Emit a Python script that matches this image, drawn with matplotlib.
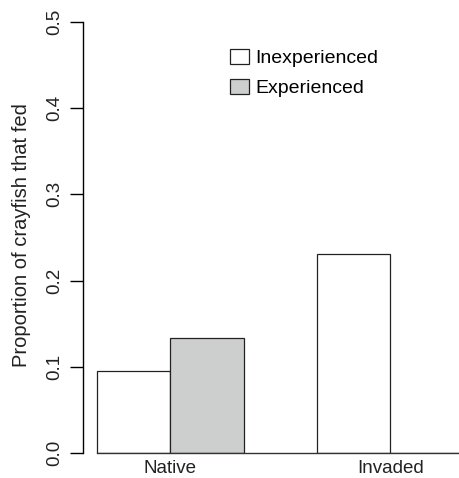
import numpy as np
import matplotlib.pyplot as plt

plt.rcParams['font.family'] = ['Liberation Sans', 'DejaVu Sans']

groups = ['Native', 'Invaded']
inexperienced = [0.095, 0.231]
experienced = [0.133, 0.0]
series_names = ['Inexperienced', 'Experienced']
yticks = [0.0, 0.1, 0.2, 0.3, 0.4, 0.5]

W, H = 460, 478
fig = plt.figure(figsize=(W / 100, H / 100), dpi=100)
ax = fig.add_axes([83 / W, (H - 453) / H, (460 - 83) / W, 431 / H])

centers = np.array([2.0, 5.0])
b1 = ax.bar(centers - 0.5, inexperienced, width=1.0, color='white',
            edgecolor='#222222', linewidth=0.9)
b2 = ax.bar(centers + 0.5, experienced, width=1.0, color='#cdcfce',
            edgecolor='#222222', linewidth=0.9)
# baseline under the bars (R barplot look)
ax.plot([1, 6], [0, 0], color='#333333', lw=1.0, zorder=3, clip_on=False)

ax.set_xlim(0.81, 5.95)
ax.set_ylim(0, 0.5)

for s in ['top', 'right', 'bottom']:
    ax.spines[s].set_visible(False)
ax.spines['left'].set_bounds(0, 0.5)
ax.spines['left'].set_linewidth(1.0)

ax.set_yticks(yticks)
ax.set_yticklabels([f'{v:.1f}' for v in yticks], rotation=90, va='center',
                   fontsize=13.5, color='#222222')
ax.tick_params(axis='y', length=9.5, width=1.0, pad=5)
ax.set_xticks(centers)
ax.set_xticklabels(groups, fontsize=13.5, color='#222222')
ax.tick_params(axis='x', length=0, pad=5)

ax.set_ylabel('Proportion of crayfish that fed', fontsize=14.5, color='#222222')
ax.yaxis.set_label_coords((31 - 83) / 377, 0.506)

ax.legend([b1, b2], series_names, loc='upper left',
          bbox_to_anchor=(230 / W, (H - 49) / H), bbox_transform=fig.transFigure,
          frameon=False, fontsize=14, handlelength=1.0, handleheight=0.8,
          handletextpad=0.3, labelspacing=0.6, borderpad=0, borderaxespad=0)

fig.savefig('out.png', dpi=100)
